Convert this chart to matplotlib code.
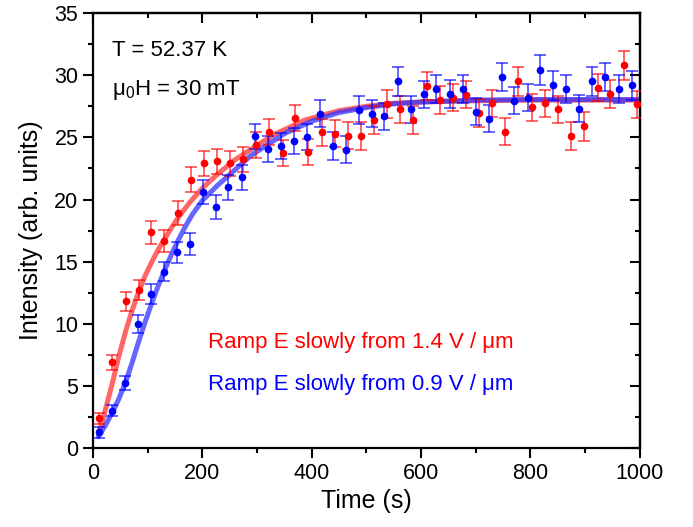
import numpy as np
import matplotlib
matplotlib.use("Agg")
import matplotlib.pyplot as plt
from matplotlib.ticker import MultipleLocator

plt.rcParams['font.family'] = ['Liberation Sans', 'DejaVu Sans']
plt.rcParams['mathtext.fontset'] = 'custom'
plt.rcParams['mathtext.rm'] = 'Liberation Sans'
plt.rcParams['mathtext.default'] = 'regular'

# measured points, ramp from 1.4 V/um (red) and 0.9 V/um (blue)
red_t = [11, 35, 60, 84, 107, 131, 155, 179, 204, 227, 251, 275, 299, 323, 347, 370,
         394, 419, 442, 467, 491, 515, 538, 562, 586, 611, 635, 658, 682, 706, 730,
         754, 778, 803, 827, 850, 874, 898, 923, 946, 971, 995]
red_y = [2.39, 6.9, 11.8, 12.7, 17.35, 16.65, 18.9, 21.6, 22.9, 23.06, 22.9, 23.25,
         24.4, 25.4, 23.75, 26.57, 23.8, 25.4, 25.3, 25.15, 25.1, 26.4, 27.7, 27.27,
         26.4, 29.15, 28.0, 28.2, 28.45, 26.97, 27.75, 25.45, 29.5, 27.43, 27.75,
         27.25, 25.1, 25.9, 28.99, 28.5, 30.8, 27.65]
red_err = [0.45, 0.6, 0.78, 0.8, 0.93, 0.9, 0.95, 1.0, 1.0, 1.0, 1.0, 1.0, 1.05, 1.05,
           1.05, 1.05, 1.05, 1.1, 1.1, 1.1, 1.1, 1.1, 1.1, 1.1, 1.1, 1.1, 1.1, 1.1,
           1.1, 1.1, 1.1, 1.1, 1.15, 1.1, 1.1, 1.1, 1.1, 1.15, 1.1, 1.15, 1.15, 1.1]

blue_t = [11, 35, 58, 82, 106, 130, 154, 177, 202, 226, 248, 272, 297, 320, 344, 367,
          391, 415, 439, 463, 486, 510, 533, 558, 581, 605, 628, 653, 677, 700, 724,
          748, 771, 795, 818, 842, 866, 890, 913, 937, 962, 986]
blue_y = [1.26, 3.0, 5.2, 10.0, 12.4, 14.2, 15.75, 16.4, 20.6, 19.4, 21.0, 21.8, 25.1,
          24.1, 24.3, 24.7, 25.05, 26.9, 24.3, 24.0, 27.2, 26.9, 26.7, 29.5, 27.27,
          28.48, 28.9, 28.5, 28.9, 27.06, 26.5, 29.85, 27.97, 28.2, 30.4, 29.2, 28.9,
          27.3, 29.5, 29.85, 28.9, 29.2]
blue_err = [0.43, 0.44, 0.56, 0.74, 0.8, 0.8, 0.85, 0.9, 0.95, 0.95, 1.0, 1.0, 1.0,
            1.05, 1.05, 1.05, 1.05, 1.1, 1.1, 1.1, 1.1, 1.1, 1.1, 1.15, 1.1, 1.1, 1.1,
            1.1, 1.1, 1.1, 1.1, 1.15, 1.1, 1.1, 1.2, 1.15, 1.15, 1.1, 1.15, 1.15, 1.1,
            1.15]

# fitted curves
red_fit_t = [10, 17, 26, 35, 47, 60, 72, 84, 96, 108, 120, 133, 145, 157, 176, 200,
             227, 260, 288, 330, 388, 450, 500, 550, 600, 700, 800, 1000]
red_fit_y = [1.2, 2.1, 3.6, 5.1, 7.3, 9.4, 11.1, 12.6, 13.9, 15.0, 16.0, 16.95, 17.8,
             18.6, 19.7, 20.9, 22.0, 23.2, 24.0, 25.2, 26.4, 27.15, 27.5, 27.75, 27.85,
             27.95, 28.0, 28.0]
blue_fit_t = [10, 22, 35, 47, 60, 72, 84, 96, 108, 120, 133, 145, 157, 170, 182, 200,
              227, 250, 288, 350, 400, 450, 500, 550, 600, 700, 800, 1000]
blue_fit_y = [0.9, 1.75, 2.8, 3.9, 5.3, 6.9, 8.6, 10.2, 11.7, 13.1, 14.5, 15.7, 16.8,
              17.9, 18.8, 19.9, 21.1, 22.0, 23.5, 25.3, 26.3, 27.0, 27.4, 27.7, 27.85,
              28.0, 28.05, 28.05]

fig = plt.figure(figsize=(6.93, 5.27), dpi=100)
ax = fig.add_axes([0.134, 0.150, 0.789, 0.825])

ax.plot(red_fit_t, red_fit_y, color=(1, 0.2, 0.2), alpha=0.75, lw=3.6,
        solid_capstyle='round', solid_joinstyle='round', zorder=2)
ax.plot(blue_fit_t, blue_fit_y, color=(0.2, 0.2, 1), alpha=0.75, lw=3.6,
        solid_capstyle='round', solid_joinstyle='round', zorder=2)

for t, y, e, c, ec in [(red_t, red_y, red_err, 'red', (1, 0, 0, 0.65)),
                       (blue_t, blue_y, blue_err, 'blue', (0, 0, 1, 0.65))]:
    ax.errorbar(t, y, yerr=e, fmt='o', color=c, ms=4.5, mec=c,
                ecolor=ec, elinewidth=1.3, capsize=4, capthick=1.3, zorder=3)

ax.set_xlim(0, 1000)
ax.set_ylim(0, 35)
ax.xaxis.set_major_locator(MultipleLocator(200))
ax.xaxis.set_minor_locator(MultipleLocator(100))
ax.yaxis.set_major_locator(MultipleLocator(5))
ax.yaxis.set_minor_locator(MultipleLocator(2.5))

for s in ax.spines.values():
    s.set_linewidth(1.6)
ax.tick_params(which='both', direction='out', width=1.5, labelsize=15.5, top=False, right=False)
ax.tick_params(which='major', length=7)
ax.tick_params(which='minor', length=3.8)

# inward ticks on top and right
ax2 = ax.secondary_xaxis('top')
ax2.xaxis.set_major_locator(MultipleLocator(200))
ax2.xaxis.set_minor_locator(MultipleLocator(100))
ax2.tick_params(which='both', direction='in', width=1.5, labeltop=False)
ax2.tick_params(which='major', length=7)
ax2.tick_params(which='minor', length=3.8)
ax3 = ax.secondary_yaxis('right')
ax3.yaxis.set_major_locator(MultipleLocator(5))
ax3.yaxis.set_minor_locator(MultipleLocator(2.5))
ax3.tick_params(which='both', direction='in', width=1.5, labelright=False)
ax3.tick_params(which='major', length=7)
ax3.tick_params(which='minor', length=3.8)
for a in (ax2, ax3):
    for s in a.spines.values():
        s.set_linewidth(1.6)

ax.set_xlabel("Time (s)", fontsize=18, labelpad=4)
ax.set_ylabel("Intensity (arb. units)", fontsize=18, labelpad=8)

ax.text(35, 32.0, "T = 52.37 K", fontsize=16, va='center')
ax.text(35, 28.8, "μ$_0$H = 30 mT", fontsize=16, va='center')
ax.text(211, 8.5, "Ramp E slowly from 1.4 V / μm", color='red', fontsize=16, va='center')
ax.text(211, 5.07, "Ramp E slowly from 0.9 V / μm", color='blue', fontsize=16, va='center')

fig.savefig("out.png", dpi=100)
